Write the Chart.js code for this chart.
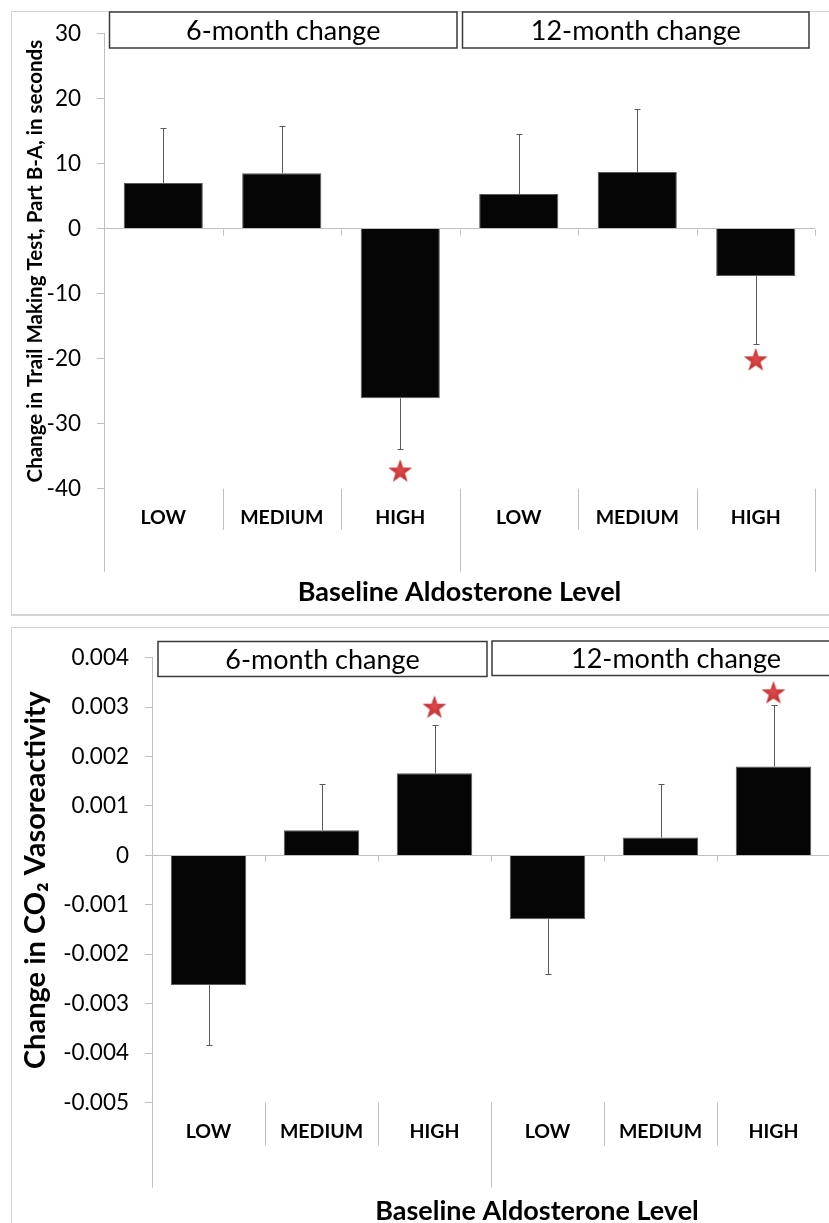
<!DOCTYPE html>
<html>
<head>
<meta charset="utf-8">
<script src="https://cdn.jsdelivr.net/npm/chart.js@4.4.1/dist/chart.umd.min.js"></script>
<style>
  html, body { margin: 0; padding: 0; background: #fff; }
  #page { position: relative; width: 829px; height: 1223px; overflow: hidden; background: #fff; }
  .frame { position: absolute; border: 1px solid #d4d4d4; box-sizing: border-box; }
  canvas { position: absolute; left: 0; }
</style>
</head>
<body>
<div id="page">
  <div class="frame" style="left:11px;top:11px;width:840px;height:605px;border-bottom-width:2px"></div>
  <div class="frame" style="left:11px;top:627px;width:840px;height:640px"></div>
  <canvas id="tmt-chart" width="829" height="620" style="top:0"></canvas>
  <canvas id="co2-chart" width="850" height="603" style="top:620px"></canvas>
</div>
<script>
/* ── Data ─────────────────────────────────── */
const categories  = ['LOW', 'MEDIUM', 'HIGH', 'LOW', 'MEDIUM', 'HIGH'];
const groupLabels = ['6-month change', '12-month change'];

// Trail Making Test B-A, seconds
const tmtMeans  = [7.0, 8.5, -26.1, 5.3, 8.7, -7.3];
const tmtErrEnd = [15.4, 15.7, -33.9, 14.6, 18.4, -17.8];   // tip of the one-sided error bar
const tmtStars  = [null, null, -37.2, null, null, -20.1];
const tmtTicks  = { min: -40, max: 30, step: 10 };

// CO2 vasoreactivity
const co2Means  = [-0.00262, 0.00051, 0.00166, -0.00129, 0.00036, 0.00180];
const co2ErrEnd = [-0.00384, 0.00144, 0.00264, -0.00239, 0.00145, 0.00305];
const co2Stars  = [null, null, 0.00301, null, null, 0.00330];
const co2Ticks  = { min: -0.005, max: 0.004, step: 0.001 };

const GRID = '#bfbfbf';
const FONT = "Lato, 'Open Sans', sans-serif";

Chart.defaults.font.family = FONT;
Chart.defaults.color = '#000';

// filled red star used as a point style
function makeStar(size) {
  const c = document.createElement('canvas');
  c.width = c.height = size;
  const g = c.getContext('2d');
  const R = size / 2 - 0.5, r = R * 0.4, cx = size / 2, cy = size / 2 + R * 0.09;
  g.beginPath();
  for (let i = 0; i < 10; i++) {
    const rad = i % 2 ? r : R, a = -Math.PI / 2 + i * Math.PI / 5;
    g.lineTo(cx + rad * Math.cos(a), cy + rad * Math.sin(a));
  }
  g.closePath();
  const grad = g.createRadialGradient(cx, cy - 2, 1, cx, cy, R);
  grad.addColorStop(0, '#e04848');
  grad.addColorStop(1, '#b02a2a');
  g.fillStyle = grad;
  g.fill();
  return c;
}
const starImg = makeStar(26);

/* ── Plugins ──────────────────────────────── */
// one-sided error bars, drawn right after the bars so the stars stay on top
const errorBars = {
  id: 'errorBars',
  afterDatasetDraw(chart, args) {
    const ds = chart.data.datasets[args.index];
    if (!ds.errEnd) return;
    const y = chart.scales.y, ctx = chart.ctx;
    ctx.save();
    ctx.strokeStyle = '#5a5a5a';
    ctx.lineWidth = 1;
    args.meta.data.forEach((bar, i) => {
      const x  = Math.round(bar.x) + 0.5;
      const y0 = y.getPixelForValue(ds.data[i]);
      const y1 = Math.round(y.getPixelForValue(ds.errEnd[i])) + 0.5;
      ctx.beginPath();
      ctx.moveTo(x, y0); ctx.lineTo(x, y1);
      ctx.moveTo(x - 3, y1); ctx.lineTo(x + 3, y1);
      ctx.stroke();
    });
    ctx.restore();
  }
};

// category separators under the axis, zero-line ticks, group header boxes
const decor = {
  id: 'decor',
  afterDraw(chart, args, o) {
    const { ctx, chartArea: a } = chart;
    const y = chart.scales.y;
    const n = categories.length, w = (a.right - a.left) / n;
    const y0 = Math.round(y.getPixelForValue(0)) + 0.5;
    ctx.save();
    ctx.strokeStyle = GRID;
    ctx.lineWidth = 1;
    for (let i = 0; i <= n; i++) {
      const bx = Math.round(a.left + i * w) + 0.5;
      ctx.beginPath();
      ctx.moveTo(bx, a.bottom);
      ctx.lineTo(bx, a.bottom + (i % 3 === 0 ? o.longSep : o.shortSep));
      if (i > 0) { ctx.moveTo(bx, y0); ctx.lineTo(bx, y0 + 6); }
      ctx.stroke();
    }

    ctx.font = `27px ${FONT}`;
    ctx.textAlign = 'center';
    ctx.textBaseline = 'middle';
    o.boxes.forEach((b, k) => {
      ctx.fillStyle = '#fff';
      ctx.fillRect(b[0], b[1], b[2] - b[0], b[3] - b[1]);
      ctx.strokeStyle = '#3a3a3a';
      ctx.lineWidth = 1.5;
      ctx.strokeRect(b[0], b[1], b[2] - b[0], b[3] - b[1]);
      ctx.fillStyle = '#000';
      ctx.fillText(groupLabels[k], (b[0] + b[2]) / 2, (b[1] + b[3]) / 2 + 1.5);
    });

    if (o.xTitle) {
      ctx.font = `bold 27px ${FONT}`;
      ctx.fillText(o.xTitle.text, o.xTitle.x, o.xTitle.y);
    }
    ctx.restore();
  }
};

/* ── Chart builder ────────────────────────── */
function buildChart(id, cfg) {
  return new Chart(document.getElementById(id), {
    type: 'bar',
    data: {
      labels: categories,
      datasets: [
        { type: 'line', data: cfg.stars, showLine: false, pointStyle: starImg, pointRadius: 13, clip: false },
        { data: cfg.means, errEnd: cfg.errEnd, backgroundColor: '#050505', borderColor: '#5a5a5a',
          borderWidth: 1, categoryPercentage: 1, barPercentage: 0.668 }
      ]
    },
    options: {
      responsive: false,
      animation: false,
      layout: { padding: cfg.padding },
      plugins: { legend: { display: false }, tooltip: { enabled: false }, decor: cfg.decor },
      scales: {
        x: {
          offset: true,
          grid: { display: false, drawTicks: false },
          border: { display: false },
          ticks: { font: { size: 19.5, weight: 'bold' }, padding: cfg.xPad, maxRotation: 0, autoSkip: false },
          title: cfg.xTitle,
          afterFit: s => { s.height = cfg.xHeight; }
        },
        y: {
          min: cfg.ticks.min, max: cfg.ticks.max,
          ticks: { stepSize: cfg.ticks.step, padding: 16, font: { size: 22.5 }, callback: cfg.fmt },
          grid: {
            color: c => (c.tick && Math.abs(c.tick.value) < 1e-9) ? GRID : 'rgba(0,0,0,0)',
            tickColor: GRID, tickLength: 7
          },
          border: { color: GRID },
          title: cfg.yTitle,
          afterFit: s => { s.width = cfg.yWidth; }
        }
      }
    },
    plugins: [errorBars, decor]
  });
}

buildChart('tmt-chart', {
  means: tmtMeans, errEnd: tmtErrEnd, stars: tmtStars, ticks: tmtTicks,
  fmt: v => String(v),
  padding: { left: 0, top: 33.5, right: 7, bottom: 0 },
  yWidth: 104, xHeight: 131.3, xPad: 17,
  yTitle: { display: true, text: 'Change in Trail Making Test, Part B-A, in seconds',
            font: { size: 20.5, weight: 'bold' }, padding: { top: 22.7, bottom: 0 } },
  xTitle: { display: true, text: 'Baseline Aldosterone Level',
            font: { size: 27, weight: 'bold' }, padding: { top: 0, bottom: 11.8 } },
  decor: { shortSep: 41, longSep: 83, boxes: [[109.5, 12, 457, 48], [462.5, 12, 809, 48]] }
});

buildChart('co2-chart', {
  means: co2Means, errEnd: co2ErrEnd, stars: co2Stars, ticks: co2Ticks,
  fmt: v => Math.abs(v) < 1e-9 ? '0' : v.toFixed(3),
  padding: { left: 0, top: 37.7, right: 20, bottom: 0 },
  yWidth: 152, xHeight: 120.5, xPad: 18,
  yTitle: { display: true, text: 'Change in CO\u2082 Vasoreactivity',
            font: { size: 29, weight: 'bold' }, padding: { top: 18.6, bottom: 0 } },
  xTitle: { display: false },
  decor: { shortSep: 43, longSep: 85, boxes: [[158, 21.5, 487, 56.5], [492, 21, 860, 55.5]],
           xTitle: { text: 'Baseline Aldosterone Level', x: 537, y: 591.7 } }
});
</script>
</body>
</html>
